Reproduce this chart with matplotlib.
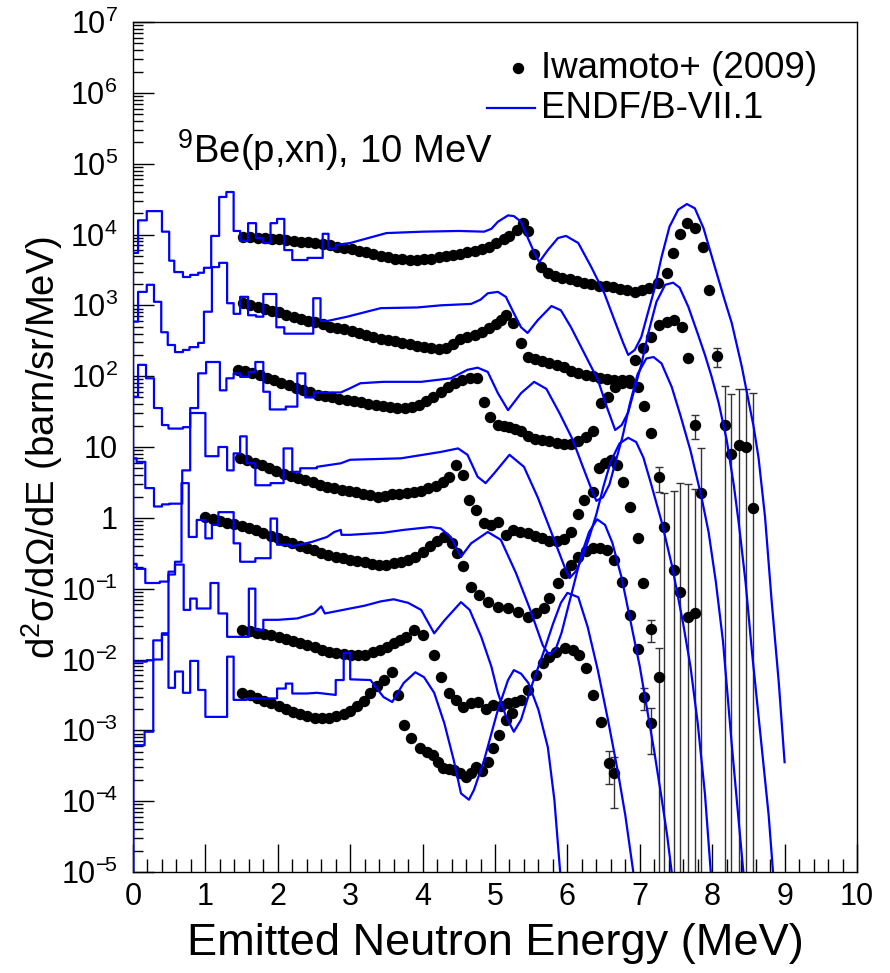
import matplotlib
matplotlib.use("Agg")
import matplotlib.pyplot as plt
import numpy as np
from matplotlib.lines import Line2D
from matplotlib.ticker import FixedLocator, MultipleLocator, LogLocator, NullFormatter, FixedFormatter

plt.rcParams['font.family'] = ['Liberation Sans', 'DejaVu Sans']
plt.rcParams['mathtext.fontset'] = 'custom'
plt.rcParams['mathtext.rm'] = 'Liberation Sans'
plt.rcParams['mathtext.it'] = 'Liberation Sans:italic'
plt.rcParams['mathtext.bf'] = 'Liberation Sans:bold'

# ---- Iwamoto+ (2009) data, log10 of plotted value (offset factors included) ----
s0_E = [1.52, 1.62, 1.72, 1.82, 1.92, 2.02, 2.12, 2.22, 2.32, 2.42, 2.52, 2.62, 2.72, 2.82, 2.92, 3.02, 3.12, 3.22,
        3.32, 3.42, 3.52, 3.62, 3.72, 3.82, 3.92, 4.02, 4.12, 4.22, 4.32, 4.42, 4.52, 4.62, 4.72, 4.82, 4.92, 5.02,
        5.12, 5.20, 5.30, 5.38, 5.46, 5.54, 5.63, 5.73, 5.83, 5.93, 6.03, 6.13, 6.23, 6.33, 6.43, 6.53, 6.63, 6.73,
        6.83, 6.93, 7.03, 7.13, 7.25, 7.37, 7.46, 7.55, 7.65, 7.76, 7.87, 7.96, 8.06, 8.17, 8.26, 8.37, 8.46, 8.57]
s0_L = [3.96, 3.96, 3.95, 3.95, 3.94, 3.93, 3.92, 3.91, 3.90, 3.89, 3.88, 3.87, 3.85, 3.83, 3.81, 3.80, 3.77, 3.75,
        3.72, 3.70, 3.68, 3.66, 3.65, 3.64, 3.64, 3.65, 3.66, 3.68, 3.70, 3.71, 3.73, 3.75, 3.77, 3.79, 3.83, 3.88,
        3.93, 3.98, 4.06, 4.16, 4.05, 3.72, 3.54, 3.46, 3.42, 3.39, 3.37, 3.35, 3.32, 3.30, 3.28, 3.27, 3.26, 3.23,
        3.21, 3.19, 3.21, 3.25, 3.31, 3.46, 3.74, 4.01, 4.16, 4.09, 3.82, 3.22, 2.28, 1.31, 0.90, 1.03, 1.00, 0.14]

s1_E = [1.52, 1.62, 1.72, 1.82, 1.92, 2.02, 2.12, 2.22, 2.32, 2.42, 2.52, 2.62, 2.72, 2.82, 2.92, 3.02, 3.12, 3.22,
        3.32, 3.42, 3.52, 3.62, 3.72, 3.82, 3.92, 4.02, 4.12, 4.22, 4.32, 4.42, 4.52, 4.62, 4.72, 4.82, 4.92, 5.02,
        5.08, 5.15, 5.25, 5.36, 5.45, 5.55, 5.65, 5.75, 5.85, 5.95, 6.05, 6.15, 6.25, 6.35, 6.45, 6.55, 6.65, 6.75,
        6.85, 6.93, 7.05, 7.16, 7.27, 7.37, 7.47, 7.58, 7.67, 7.76, 7.85]
s1_L = [3.03, 3.00, 2.98, 2.95, 2.92, 2.90, 2.87, 2.84, 2.81, 2.78, 2.76, 2.73, 2.70, 2.68, 2.66, 2.64, 2.61, 2.58,
        2.55, 2.53, 2.51, 2.49, 2.47, 2.45, 2.43, 2.41, 2.40, 2.39, 2.40, 2.45, 2.52, 2.55, 2.58, 2.63, 2.68, 2.74,
        2.80, 2.86, 2.75, 2.47, 2.27, 2.24, 2.22, 2.19, 2.16, 2.13, 2.08, 2.04, 2.02, 2.00, 1.98, 1.96, 1.95, 1.94,
        1.95, 2.23, 2.40, 2.55, 2.72, 2.77, 2.79, 2.70, 2.26, 1.31, 0.35]

s2_E = [1.45, 1.55, 1.65, 1.75, 1.85, 1.95, 2.05, 2.15, 2.25, 2.35, 2.45, 2.55, 2.65, 2.75, 2.85, 2.95, 3.05, 3.15,
        3.25, 3.35, 3.45, 3.55, 3.65, 3.75, 3.85, 3.95, 4.05, 4.15, 4.25, 4.35, 4.45, 4.55, 4.65, 4.75, 4.85, 4.93,
        5.04, 5.12, 5.20, 5.28, 5.36, 5.45, 5.55, 5.65, 5.75, 5.85, 5.95, 6.05, 6.15, 6.25, 6.35, 6.47, 6.56, 6.66,
        6.76, 6.87, 6.98, 7.06, 7.16, 7.27, 7.34, 7.47, 7.55, 7.67, 7.76]
s2_L = [2.09, 2.07, 2.04, 2.01, 1.98, 1.94, 1.91, 1.88, 1.84, 1.80, 1.77, 1.74, 1.72, 1.70, 1.68, 1.66, 1.65, 1.63,
        1.61, 1.60, 1.58, 1.56, 1.55, 1.55, 1.57, 1.60, 1.65, 1.70, 1.78, 1.85, 1.90, 1.95, 1.97, 1.97, 1.64, 1.42,
        1.31, 1.30, 1.28, 1.26, 1.22, 1.16, 1.12, 1.10, 1.08, 1.06, 1.04, 1.04, 1.08, 1.14, 1.22, 1.62, 1.71, 1.85,
        1.90, 1.90, 1.85, 1.58, 1.20, 0.58, -0.13, -0.74, -1.05, -1.40, -1.35]

s3_E = [1.48, 1.58, 1.68, 1.78, 1.88, 1.98, 2.08, 2.18, 2.28, 2.38, 2.48, 2.58, 2.68, 2.78, 2.88, 2.98, 3.08, 3.18,
        3.28, 3.38, 3.48, 3.58, 3.68, 3.78, 3.88, 3.98, 4.08, 4.18, 4.28, 4.36, 4.46, 4.56, 4.64, 4.74, 4.85, 4.95,
        5.04, 5.15, 5.25, 5.35, 5.45, 5.55, 5.65, 5.75, 5.85, 5.95, 6.05, 6.14, 6.23, 6.36, 6.44, 6.52, 6.60, 6.68,
        6.77, 6.86, 6.97, 7.05, 7.16, 7.27]
s3_L = [0.84, 0.82, 0.78, 0.74, 0.70, 0.66, 0.62, 0.59, 0.56, 0.53, 0.50, 0.47, 0.44, 0.42, 0.40, 0.38, 0.36, 0.34,
        0.32, 0.30, 0.31, 0.33, 0.33, 0.35, 0.37, 0.38, 0.42, 0.45, 0.50, 0.58, 0.75, 0.61, 0.25, 0.11, -0.07, -0.10,
        -0.06, -0.24, -0.17, -0.20, -0.22, -0.26, -0.28, -0.32, -0.33, -0.30, -0.20, 0.05, 0.25, 0.36, 0.70, 0.78,
        0.82, 0.75, 0.50, 0.15, -0.28, -0.92, -1.57, -2.25]

s4_E = [1.00, 1.10, 1.20, 1.30, 1.40, 1.50, 1.60, 1.70, 1.80, 1.90, 2.00, 2.10, 2.20, 2.30, 2.40, 2.50, 2.60, 2.70,
        2.80, 2.90, 3.00, 3.10, 3.20, 3.30, 3.40, 3.50, 3.60, 3.70, 3.80, 3.90, 4.00, 4.10, 4.20, 4.30, 4.40, 4.48,
        4.56, 4.67, 4.78, 4.90, 5.04, 5.18, 5.32, 5.46, 5.57, 5.67, 5.75, 5.87, 5.96, 6.05, 6.15, 6.25, 6.35, 6.45,
        6.55, 6.65, 6.76, 6.86, 6.97, 7.06, 7.15]
s4_L = [0.01, -0.02, -0.05, -0.07, -0.09, -0.11, -0.14, -0.17, -0.21, -0.25, -0.29, -0.33, -0.36, -0.40, -0.43,
        -0.46, -0.49, -0.52, -0.55, -0.57, -0.59, -0.61, -0.63, -0.65, -0.67, -0.66, -0.64, -0.62, -0.59, -0.55,
        -0.48, -0.40, -0.32, -0.27, -0.35, -0.50, -0.68, -0.97, -1.09, -1.19, -1.26, -1.27, -1.33, -1.40, -1.35,
        -1.27, -1.13, -0.92, -0.78, -0.66, -0.55, -0.47, -0.43, -0.42, -0.46, -0.60, -0.91, -1.37, -1.85, -2.53,
        -2.90]

s5_E = [1.51, 1.61, 1.71, 1.81, 1.91, 2.01, 2.11, 2.21, 2.31, 2.41, 2.51, 2.61, 2.71, 2.81, 2.91, 3.01, 3.11, 3.21,
        3.31, 3.41, 3.51, 3.60, 3.69, 3.77, 3.88, 4.00, 4.16, 4.25, 4.36, 4.46, 4.56, 4.67, 4.76, 4.87, 4.97, 5.08,
        5.18, 5.27, 5.36, 5.46, 5.57, 5.66, 5.75, 5.84, 5.96, 6.08, 6.16, 6.26, 6.36, 6.47, 6.57, 6.65]
s5_L = [-1.58, -1.60, -1.62, -1.64, -1.66, -1.68, -1.71, -1.74, -1.77, -1.80, -1.82, -1.86, -1.89, -1.91, -1.92,
        -1.93, -1.94, -1.93, -1.90, -1.87, -1.83, -1.77, -1.72, -1.68, -1.58, -1.65, -1.94, -2.25, -2.47, -2.57,
        -2.67, -2.62, -2.60, -2.70, -2.64, -2.66, -2.62, -2.60, -2.57, -2.43, -2.22, -2.05, -1.96, -1.90, -1.84,
        -1.87, -1.94, -2.12, -2.50, -2.88, -3.46, -3.60]

s6_E = [1.51, 1.61, 1.71, 1.81, 1.91, 2.01, 2.11, 2.21, 2.31, 2.41, 2.51, 2.61, 2.71, 2.81, 2.91, 3.00, 3.10, 3.19,
        3.28, 3.37, 3.46, 3.58, 3.66, 3.74, 3.84, 3.97, 4.06, 4.14, 4.21, 4.28, 4.36, 4.43, 4.52, 4.60, 4.67, 4.74,
        4.82, 4.90, 4.97, 5.06, 5.15, 5.24]
s6_L = [-2.47, -2.50, -2.54, -2.58, -2.62, -2.66, -2.70, -2.74, -2.77, -2.80, -2.82, -2.83, -2.82, -2.80, -2.77,
        -2.72, -2.66, -2.58, -2.47, -2.38, -2.29, -2.18, -2.50, -2.93, -3.11, -3.25, -3.30, -3.35, -3.45, -3.53,
        -3.55, -3.56, -3.60, -3.66, -3.60, -3.52, -3.58, -3.45, -3.25, -3.07, -2.85, -2.76]

# points carrying visible error bars (energy, log10 value, linear error)
eb_E = [8.06, 8.17, 8.26, 8.37, 8.46, 8.57, 7.76, 7.85, 7.27, 7.34, 7.47, 7.55, 7.67, 7.76, 7.16, 7.27, 7.06, 7.15,
        6.57, 6.65]
eb_L = [2.28, 1.31, 0.90, 1.03, 1.00, 0.14, 1.31, 0.35, 0.58, -0.13, -0.74, -1.05, -1.40, -1.35, -1.57, -2.25,
        -2.53, -2.90, -3.46, -3.60]
eb_err = [58, 52, 48, 55, 56, 56, 7.5, 7.3, 1.5, 1.5, 2.2, 3.0, 3.0, 2.5, 0.009, 0.009, 0.001, 0.0008, 1.7e-4, 1.7e-4]

# ---- ENDF/B-VII.1: histogram part (bin edges + log10 levels) and smooth part ----
c0_edges = [0, 0.07, 0.19, 0.40, 0.50, 0.57, 0.69, 0.79, 0.90, 0.98, 1.08, 1.19, 1.29, 1.39, 1.48, 1.59, 1.70,
            1.80, 1.90, 1.99, 2.09, 2.20, 2.41, 2.62, 2.70, 2.80]
c0_levels = [3.74, 4.20, 4.33, 4.04, 3.63, 3.47, 3.40, 3.43, 3.46, 3.53, 3.98, 4.53, 4.60, 4.05, 3.91, 4.16, 3.95,
             3.88, 4.16, 4.22, 3.78, 3.64, 3.67, 4.01, 3.80]
c0_sE = [2.80, 3.0, 3.5, 4.0, 4.5, 4.85, 4.95, 5.04, 5.18, 5.26, 5.36, 5.45, 5.54, 5.61, 5.73, 5.87, 5.98, 6.15,
         6.33, 6.51, 6.65, 6.77, 6.84, 6.93, 7.02, 7.10, 7.20, 7.30, 7.41, 7.53, 7.65, 7.76, 7.88, 8.02, 8.17, 8.27,
         8.41, 8.50, 8.57, 8.64, 8.73, 8.82, 8.92, 9.00]
c0_sL = [3.85, 3.88, 4.02, 4.04, 4.05, 4.04, 4.08, 4.18, 4.27, 4.26, 4.18, 3.96, 3.75, 3.61, 3.78, 3.95, 3.98, 3.88,
         3.54, 3.17, 2.79, 2.47, 2.30, 2.37, 2.55, 2.85, 3.22, 3.68, 4.11, 4.35, 4.43, 4.37, 4.09, 3.60, 3.08, 2.75,
         2.13, 1.66, 1.30, 0.85, 0.01, -1.16, -2.33, -3.45]

c1_edges = [0, 0.07, 0.19, 0.29, 0.39, 0.48, 0.58, 0.69, 0.78, 0.90, 0.98, 1.09, 1.19, 1.30, 1.39, 1.48, 1.59,
            1.70, 1.80, 1.98, 2.09, 2.49, 2.59, 2.69]
c1_levels = [2.77, 3.19, 3.29, 3.05, 2.62, 2.44, 2.34, 2.37, 2.41, 2.47, 2.91, 3.54, 3.60, 3.03, 2.88, 3.12, 2.86,
             2.84, 3.16, 2.69, 2.60, 3.10, 2.78]
c1_sE = [2.69, 2.96, 3.42, 3.93, 4.25, 4.67, 4.80, 4.90, 5.04, 5.15, 5.26, 5.36, 5.45, 5.59, 5.78, 5.91, 6.05,
         6.23, 6.42, 6.55, 6.66, 6.75, 6.84, 6.92, 7.02, 7.12, 7.23, 7.35, 7.46, 7.55, 7.67, 7.80, 7.90, 7.99, 8.09,
         8.20, 8.30, 8.37, 8.46, 8.55, 8.63, 8.71, 8.78, 8.84]
c1_sL = [2.78, 2.84, 2.96, 2.97, 3.00, 3.02, 3.08, 3.17, 3.19, 3.12, 2.89, 2.69, 2.61, 2.79, 2.99, 2.93, 2.69,
         2.33, 1.95, 1.55, 1.24, 1.31, 1.49, 1.79, 2.16, 2.62, 3.05, 3.29, 3.32, 3.25, 2.98, 2.60, 2.30, 2.00, 1.62,
         1.10, 0.45, -0.10, -0.90, -1.90, -2.70, -3.50, -4.20, -5.00]

c2_edges = [0, 0.07, 0.18, 0.29, 0.40, 0.49, 0.69, 0.79, 0.90, 1.01, 1.20, 1.29, 1.39, 1.48, 1.60, 1.69, 1.80,
            1.89, 2.11, 2.27, 2.38, 2.50]
c2_levels = [1.71, 2.16, 1.97, 1.55, 1.31, 1.26, 1.28, 1.55, 2.04, 2.20, 1.80, 1.97, 2.04, 1.99, 2.06, 2.20, 1.78,
             1.53, 1.57, 2.04, 1.70]
c2_sE = [2.50, 2.87, 3.00, 3.14, 3.46, 3.98, 4.39, 4.62, 4.76, 4.90, 5.04, 5.18, 5.36, 5.54, 5.71, 5.89, 6.07,
         6.21, 6.33, 6.40, 6.49, 6.58, 6.66, 6.76, 6.86, 6.97, 7.09, 7.19, 7.30, 7.44, 7.56, 7.70, 7.85, 7.95, 8.05,
         8.15, 8.27, 8.35, 8.43]
c2_sL = [1.77, 1.77, 1.83, 1.90, 1.92, 1.92, 1.97, 2.09, 2.12, 2.06, 1.76, 1.52, 1.76, 1.92, 1.82, 1.48, 1.11,
         0.73, 0.41, 0.24, 0.29, 0.47, 0.77, 1.14, 1.60, 2.03, 2.25, 2.27, 2.18, 1.85, 1.45, 0.95, 0.30, -0.20,
         -0.90, -1.75, -3.20, -4.10, -5.00]

c3_edges = [0, 0.05, 0.17, 0.29, 0.40, 0.50, 0.68, 0.79, 1.00, 1.18, 1.30, 1.39, 1.48, 1.57, 1.69, 1.90, 2.08,
            2.20, 2.31, 2.54]
c3_levels = [0.84, 0.79, 0.42, 0.16, 0.19, 0.20, 0.67, 1.48, 0.87, 1.00, 0.67, 0.91, 1.15, 0.77, 0.46, 0.49, 0.98,
             0.65, 0.70]
c3_sE = [2.54, 2.87, 3.00, 3.70, 4.25, 4.49, 4.62, 4.76, 4.87, 4.99, 5.20, 5.40, 5.59, 5.78, 5.96, 6.03, 6.12,
         6.21, 6.30, 6.40, 6.50, 6.60, 6.72, 6.84, 6.95, 7.05, 7.15, 7.30, 7.45, 7.60, 7.70, 7.80, 7.90, 7.98]
c3_sL = [0.72, 0.77, 0.82, 0.84, 0.93, 0.98, 0.89, 0.58, 0.49, 0.63, 0.89, 0.72, 0.29, -0.21, -0.69, -0.85,
         -0.75, -0.55, -0.28, 0.05, 0.45, 0.80, 1.05, 1.13, 1.07, 0.85, 0.50, -0.05, -0.70, -1.50, -2.10, -2.90,
         -3.90, -5.00]

c4_edges = [0, 0.05, 0.17, 0.37, 0.49, 0.58, 0.67, 0.77, 0.88, 1.00, 1.09, 1.18, 1.39, 1.48, 1.69, 1.90, 1.99,
            2.17]
c4_levels = [-0.65, -0.72, -0.92, -0.90, -0.76, -0.62, 0.49, -0.27, -0.03, -0.29, -0.10, 0.08, -0.36, -0.62,
             -0.57, -0.01, -0.38]
c4_sE = [2.17, 2.47, 2.68, 2.78, 2.87, 2.88, 3.00, 3.46, 3.74, 4.11, 4.25, 4.39, 4.53, 4.67, 4.90, 5.08, 5.29,
         5.48, 5.66, 5.75, 5.84, 5.92, 6.00, 6.10, 6.20, 6.30, 6.41, 6.52, 6.62, 6.75, 6.88, 7.00, 7.10, 7.20, 7.30,
         7.38, 7.44]
c4_sL = [-0.41, -0.34, -0.27, -0.20, -0.17, -0.24, -0.24, -0.21, -0.17, -0.13, -0.15, -0.27, -0.55, -0.36, -0.20,
         -0.31, -0.78, -1.28, -1.80, -1.94, -1.85, -1.62, -1.30, -0.90, -0.50, -0.20, -0.02, -0.10, -0.35, -0.85,
         -1.50, -2.10, -2.70, -3.30, -3.95, -4.50, -5.00]

c5_edges = [0, 0.19, 0.28, 0.40, 0.49, 0.58, 0.70, 0.79, 0.88, 1.07, 1.18, 1.30, 1.60, 1.69, 1.80]
c5_levels = [-2.03, -2.01, -1.73, -1.63, -0.80, -0.66, -1.30, -1.14, -1.28, -0.92, -1.35, -1.68, -1.00, -1.58]
c5_sE = [1.80, 2.00, 2.27, 2.50, 2.60, 2.65, 2.90, 3.20, 3.42, 3.60, 3.80, 3.98, 4.16, 4.30, 4.53, 4.65, 4.81,
         4.95, 5.04, 5.15, 5.26, 5.36, 5.50, 5.68, 5.80, 5.91, 6.00, 6.15, 6.28, 6.42, 6.56, 6.70, 6.80, 6.91]
c5_sL = [-1.44, -1.44, -1.42, -1.35, -1.25, -1.35, -1.30, -1.24, -1.18, -1.15, -1.20, -1.30, -1.63, -1.45, -1.19,
         -1.30, -1.68, -2.10, -2.47, -2.80, -3.02, -2.85, -2.39, -1.87, -1.50, -1.20, -1.06, -1.12, -1.54, -2.15,
         -2.85, -3.60, -4.20, -5.00]

c6_edges = [0, 0.16, 0.28, 0.40, 0.49, 0.58, 0.69, 0.79, 0.90, 1.00, 1.30, 1.39, 1.57, 1.99, 2.11, 2.20, 2.40]
c6_levels = [-3.21, -3.02, -2.00, -1.65, -2.40, -2.17, -2.47, -2.02, -2.43, -2.81, -1.96, -2.57, -2.55, -2.41,
             -2.34, -2.48]
c6_sE = [2.40, 2.54, 2.80, 2.80, 2.91, 2.91, 3.00, 3.00, 3.28, 3.46, 3.58, 3.74, 3.90, 4.02, 4.16, 4.30, 4.43,
         4.53, 4.64, 4.71, 4.85, 5.04, 5.18, 5.26, 5.36, 5.46, 5.60, 5.73, 5.82, 5.90]
c6_sL = [-2.48, -2.47, -2.50, -2.29, -2.29, -1.91, -1.91, -2.28, -2.29, -2.53, -2.60, -2.33, -2.18, -2.25, -2.47,
         -2.90, -3.42, -3.89, -3.98, -3.84, -3.42, -2.71, -2.29, -2.15, -2.20, -2.33, -2.71, -3.24, -3.98, -5.00]

ytick_labels = [r'$10^{-\!5}$', r'$10^{-\!4}$', r'$10^{-\!3}$', r'$10^{-\!2}$', r'$10^{-\!1}$', '1', '10',
                r'$10^{2}$', r'$10^{3}$', r'$10^{4}$', r'$10^{5}$', r'$10^{6}$', r'$10^{7}$']


def endf_line(edges, levels, sE, sL):
    # histogram drawn ROOT-like: rises from the bottom at E=0, then steps, then the smooth part
    xs = [edges[0]]
    ys = [-6.0]
    for i, lev in enumerate(levels):
        xs += [edges[i], edges[i + 1]]
        ys += [lev, lev]
    xs += list(sE)
    ys += list(sL)
    return np.array(xs), 10.0 ** np.array(ys)


W, H = 890, 973
fig = plt.figure(figsize=(W / 100, H / 100), dpi=100)
ax = fig.add_axes([133 / W, 101 / H, 724 / W, 850 / H])
ax.set_yscale('log')

ax.errorbar(eb_E, 10.0 ** np.array(eb_L), yerr=eb_err, fmt='none', ecolor='0.2', elinewidth=1.0,
            capsize=2.6, capthick=1.0, zorder=1)

MS = 8.2
for E, L in [(s0_E, s0_L), (s1_E, s1_L), (s2_E, s2_L), (s3_E, s3_L), (s4_E, s4_L), (s5_E, s5_L), (s6_E, s6_L)]:
    ax.plot(E, 10.0 ** np.array(L), 'o', color='black', markersize=MS, markeredgewidth=0, zorder=2)

for ed, lv, sE, sL in [(c0_edges, c0_levels, c0_sE, c0_sL), (c1_edges, c1_levels, c1_sE, c1_sL),
                       (c2_edges, c2_levels, c2_sE, c2_sL), (c3_edges, c3_levels, c3_sE, c3_sL),
                       (c4_edges, c4_levels, c4_sE, c4_sL), (c5_edges, c5_levels, c5_sE, c5_sL),
                       (c6_edges, c6_levels, c6_sE, c6_sL)]:
    x, y = endf_line(ed, lv, sE, sL)
    ax.plot(x, y, '-', color='#0000ff', lw=1.6, zorder=3)

ax.set_xlim(0, 10)
ax.set_ylim(1e-5, 1e7)

ax.xaxis.set_major_locator(MultipleLocator(1))
ax.xaxis.set_minor_locator(MultipleLocator(0.2))
ax.yaxis.set_major_locator(FixedLocator([10.0 ** k for k in range(-5, 8)]))
ax.yaxis.set_major_formatter(FixedFormatter(ytick_labels))
ax.yaxis.set_minor_locator(LogLocator(base=10, subs=range(2, 10), numticks=40))
ax.yaxis.set_minor_formatter(NullFormatter())

ax.tick_params(axis='x', which='major', direction='in', length=20, width=1, labelsize=22, pad=7)
ax.tick_params(axis='x', which='minor', direction='in', length=9.5, width=1)
ax.tick_params(axis='y', which='major', direction='in', length=15, width=1, labelsize=22, pad=11)
ax.tick_params(axis='y', which='minor', direction='in', length=7.5, width=1)
ax.tick_params(top=False, right=False, which='both')
for sp in ax.spines.values():
    sp.set_linewidth(1.0)

fig.text(495 / W, 1 - 943 / H, 'Emitted Neutron Energy (MeV)', ha='center', va='center', fontsize=32.5)
fig.text(42 / W, 1 - 447 / H, r'd$^{2}$σ/dΩ/dE (barn/sr/MeV)', ha='center', va='center', rotation=90,
         fontsize=27.5)

fig.text(177 / W, 1 - 163 / H, r'$^{9}$Be(p,xn), 10 MeV', ha='left', va='baseline', fontsize=27.5)

# legend
fig.add_artist(Line2D([518 / W], [1 - 68 / H], marker='o', color='black', markersize=MS, markeredgewidth=0,
                      linestyle='none', transform=fig.transFigure))
fig.add_artist(Line2D([487 / W, 535 / W], [1 - 108 / H, 1 - 108 / H], color='#0000ff', lw=1.6,
                      transform=fig.transFigure))
fig.text(541 / W, 1 - 68 / H, 'Iwamoto+ (2009)', ha='left', va='center', fontsize=26.5)
fig.text(541 / W, 1 - 108 / H, 'ENDF/B-VII.1', ha='left', va='center', fontsize=26.5)

fig.savefig('out.png', dpi=100)
